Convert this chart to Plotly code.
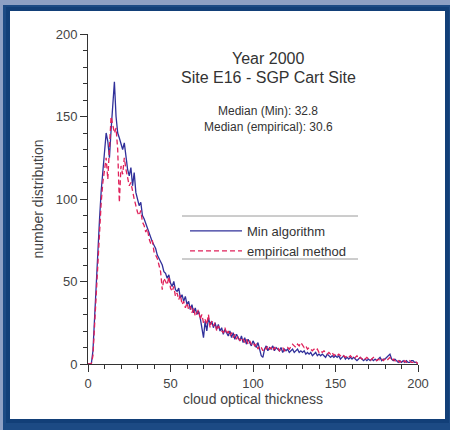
import plotly.graph_objects as go

# cloud optical thickness (x) and number distributions
tau = list(range(0, 201))

min_algorithm = [
    0, 0, 0, 8, 30, 50, 70, 88, 105, 118, 128, 140, 135, 125, 142, 160, 171, 150, 140, 137, 133,
    130, 134, 125, 118, 114, 119, 108, 116, 104, 100,
    96, 98, 90, 88, 85, 82, 80, 77, 74, 72, 70, 66, 64, 62, 60, 56, 55, 52, 54, 49,
    47, 50, 45, 44, 46, 40, 42, 38, 41, 36, 38, 33, 36, 31, 34, 30, 32, 28, 22, 16,
    26, 20, 28, 24, 26, 22, 25, 21, 24, 20,
    22, 18, 21, 19, 17, 20, 16, 19, 15, 18, 16, 14, 17, 13, 16, 12, 15, 13, 11, 14,
    12, 10, 13, 8, 5, 4, 9, 11, 8, 10, 9, 11, 8, 10, 9, 8, 10, 7, 9, 8,
    9, 7, 8, 9, 7, 8, 9, 7, 8, 7, 8, 6, 7, 6, 7, 5, 6, 7, 5, 6,
    5, 6, 5, 4, 6, 5, 4, 5, 4, 5, 4, 5, 3, 4, 5, 3, 4, 3, 4, 3,
    4, 3, 2, 3, 4, 3, 2, 3, 2, 3, 2, 3, 2, 3, 2, 3, 4, 2, 3, 3,
    4, 5, 6, 3, 2, 3, 2, 1, 2, 1, 2, 1, 2, 1, 1, 2, 2, 1, 1, 0,
]

empirical_method = [
    0, 0, 0, 5, 25, 45, 65, 82, 98, 110, 118, 125, 112, 130, 150, 145, 140, 143, 130, 98, 120,
    115, 125, 118, 112, 108, 110, 104, 100, 96, 92,
    90, 93, 86, 84, 80, 82, 76, 73, 75, 68, 66, 64, 60, 56, 45, 52, 50, 48, 53, 46,
    44, 47, 41, 43, 39, 42, 36, 38, 34, 37, 33, 35, 31, 34, 29, 31, 33, 27, 30, 25,
    27, 24, 30, 22, 26, 23, 25, 20, 23, 21,
    20, 19, 22, 18, 20, 17, 19, 16, 18, 15, 17, 14, 16, 15, 13, 15, 12, 14, 12, 13,
    11, 12, 9, 11, 10, 8, 10, 9, 11, 9, 10, 8, 10, 9, 10, 8, 9, 10, 8, 9,
    10, 9, 11, 12, 11, 10, 12, 11, 13, 11, 10, 11, 9, 10, 9, 8, 9, 8, 9, 7,
    8, 7, 8, 7, 6, 7, 6, 7, 5, 6, 5, 6, 5, 4, 5, 4, 5, 4, 5, 4,
    3, 4, 5, 3, 4, 3, 4, 3, 4, 3, 2, 3, 4, 3, 2, 3, 2, 3, 2, 3,
    2, 3, 4, 2, 3, 2, 1, 2, 1, 2, 1, 2, 1, 1, 2, 1, 1, 2, 1, 0,
]

series_names = ["Min algorithm", "empirical method"]
title_lines = ["Year 2000", "Site E16 - SGP Cart Site"]
median_lines = ["Median (Min): 32.8", "Median (empirical): 30.6"]
tick_vals = [0, 50, 100, 150, 200]

fig = go.Figure()
fig.add_trace(go.Scatter(x=tau, y=min_algorithm, mode="lines", name=series_names[0],
                         line=dict(color="#30309a", width=1.3)))
fig.add_trace(go.Scatter(x=tau, y=empirical_method, mode="lines", name=series_names[1],
                         line=dict(color="#e0205a", width=1.3, dash="5px,3px")))

# px -> paper helpers (plot area 88..418 x, 34..364 y)
def px_x(p):
    return (p - 88) / 330.0

def px_y(p):
    return (364 - p) / 330.0

shapes = [
    dict(type="rect", xref="paper", yref="paper", x0=px_x(-5), x1=px_x(455), y0=px_y(-5), y1=px_y(5),
         fillcolor="#8ea0c4", line=dict(width=0), layer="below"),
    dict(type="rect", xref="paper", yref="paper", x0=px_x(-5), x1=px_x(3), y0=px_y(-5), y1=px_y(435),
         fillcolor="#8ea0c4", line=dict(width=0), layer="below"),
    dict(type="rect", xref="paper", yref="paper", x0=px_x(8), x1=px_x(447), y0=px_y(9), y1=px_y(421),
         fillcolor="white", line=dict(color="#123f78", width=4), layer="below"),
    dict(type="line", xref="paper", yref="paper", x0=px_x(182), x1=px_x(358), y0=px_y(216), y1=px_y(216),
         line=dict(color="#9a9a9a", width=1)),
    dict(type="line", xref="paper", yref="paper", x0=px_x(182), x1=px_x(358), y0=px_y(259), y1=px_y(259),
         line=dict(color="#9a9a9a", width=1)),
]

font_family = "Liberation Sans, Arial, sans-serif"
annotations = [
    dict(text=title_lines[0], x=px_x(268), y=px_y(48), xref="paper", yref="paper", showarrow=False,
         font=dict(size=16, color="#333333", family=font_family)),
    dict(text=title_lines[1], x=px_x(268), y=px_y(67), xref="paper", yref="paper", showarrow=False,
         font=dict(size=16, color="#333333", family=font_family)),
    dict(text=median_lines[0], x=px_x(268), y=px_y(102), xref="paper", yref="paper", showarrow=False,
         font=dict(size=12, color="#333333", family=font_family)),
    dict(text=median_lines[1], x=px_x(268), y=px_y(118), xref="paper", yref="paper", showarrow=False,
         font=dict(size=12, color="#333333", family=font_family)),
]

axis_common = dict(
    range=[0, 200], tickvals=tick_vals, showgrid=False, zeroline=False,
    showline=True, linecolor="#333333", linewidth=1,
    ticks="outside", ticklen=7, tickcolor="#333333",
    minor=dict(dtick=10, ticks="outside", ticklen=4, tickcolor="#333333", showgrid=False),
    tickfont=dict(size=13, color="#444444", family=font_family),
)

fig.update_layout(
    width=450, height=430,
    margin=dict(l=88, r=32, t=34, b=66),
    paper_bgcolor="#1c4a84",
    plot_bgcolor="rgba(0,0,0,0)",
    showlegend=True,
    legend=dict(x=px_x(185), y=px_y(216), xanchor="left", yanchor="top",
                bgcolor="rgba(0,0,0,0)", borderwidth=0,
                font=dict(size=13, color="#333333", family=font_family),
                tracegroupgap=0, itemwidth=52),
    shapes=shapes,
    annotations=annotations,
    xaxis=dict(title=dict(text="cloud optical thickness", standoff=2,
                          font=dict(size=14, color="#444444", family=font_family)), **axis_common),
    yaxis=dict(title=dict(text="number distribution", standoff=8,
                          font=dict(size=14, color="#444444", family=font_family)), **axis_common),
)

fig.write_html("out.html",
               config={"displayModeBar": False},
               post_script="document.body.style.margin='0';document.body.style.padding='0';document.body.style.overflow='hidden';")
